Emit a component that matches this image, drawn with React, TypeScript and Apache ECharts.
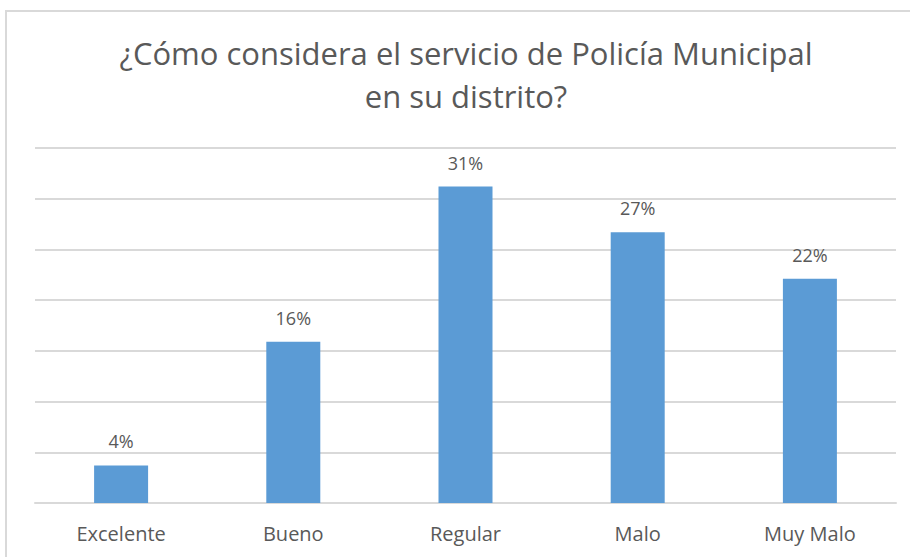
import React, { useEffect, useRef } from "react";
import * as echarts from "echarts";

const categories = ["Excelente", "Bueno", "Regular", "Malo", "Muy Malo"];
const values = [3.7, 15.9, 31.2, 26.7, 22.1];
const titleLines = ["¿Cómo considera el servicio de Policía Municipal", "en su distrito?"];

export default function App() {
  const ref = useRef<HTMLDivElement>(null);
  useEffect(() => {
    document.body.style.margin = "0";
    const chart = echarts.init(ref.current!, null, { renderer: "svg" });
    chart.setOption({
      animation: false,
      backgroundColor: "#ffffff",
      textStyle: { fontFamily: "Open Sans" },
      title: {
        text: titleLines.join("\n"),
        left: 461,
        textAlign: "center",
        top: 26,
        textStyle: {
          fontFamily: "Open Sans",
          fontSize: 31,
          fontWeight: "normal",
          color: "#595959",
          lineHeight: 43,
        },
      },
      graphic: [
        {
          type: "rect",
          shape: { x: 6, y: 11, width: 1000, height: 700 },
          style: { fill: "none", stroke: "#d9d9d9", lineWidth: 2 },
          silent: true,
        },
      ],
      grid: { left: 35, right: 14, top: 148, bottom: 54 },
      xAxis: {
        type: "category",
        data: categories,
        axisLine: { show: true, lineStyle: { color: "#d9d9d9", width: 2 } },
        axisTick: { show: false },
        axisLabel: { color: "#595959", fontSize: 20, margin: 20, fontFamily: "Open Sans" },
      },
      yAxis: {
        type: "value",
        min: 0,
        max: 35,
        interval: 5,
        axisLabel: { show: false },
        axisLine: { show: false },
        axisTick: { show: false },
        splitLine: { lineStyle: { color: "#d9d9d9", width: 2 } },
      },
      series: [
        {
          type: "bar",
          data: values,
          barWidth: 54,
          itemStyle: { color: "#5b9bd5" },
          label: {
            show: true,
            position: "top",
            distance: 15,
            color: "#595959",
            fontSize: 18,
            fontFamily: "Open Sans",
            formatter: (p: any) => Math.round(p.value) + "%",
          },
        },
      ],
    });
    return () => chart.dispose();
  }, []);
  return <div ref={ref} style={{ width: 910, height: 557 }} />;
}
